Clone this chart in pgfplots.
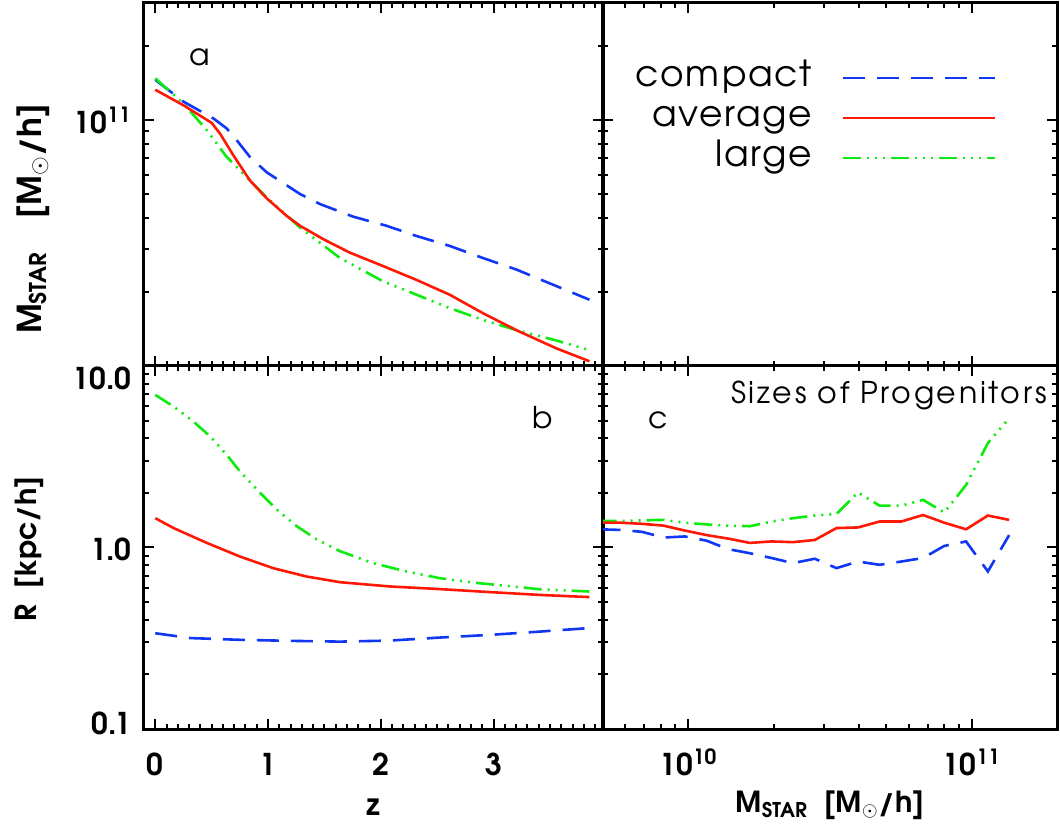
\documentclass[border=0pt]{standalone}
\usepackage{fontspec}
\setmainfont{texgyreadventor}[Extension=.otf, UprightFont=*-regular, BoldFont=*-bold]
\usepackage{pgfplots}
\pgfplotsset{compat=1.18}
\definecolor{cblue}{RGB}{15,55,245}
\definecolor{cred}{RGB}{255,25,5}
\definecolor{cgreen}{RGB}{15,235,15}
\pgfplotsset{
  panel/.style={
    scale only axis, anchor=south west,
    height=181.5pt,
    axis line style={line width=1.5pt},
    tick align=inside,
    tick pos=both, ticklabel pos=left,
    major tick length=5pt, minor tick length=2.5pt,
    every tick/.style={black, line width=1pt},
    tick label style={font=\fontsize{15}{17}\selectfont\bfseries},
    yticklabel style={anchor=base east, inner sep=0pt, xshift=-6pt, yshift=-6.5pt},
    xticklabel style={anchor=base, inner sep=0pt, yshift=-23pt},
  },
  cmp/.style={cblue, line width=1.3pt, dash pattern=on 11pt off 6pt},
  avg/.style={cred, line width=1.3pt},
  lrg/.style={cgreen, line width=1.3pt, dash pattern=on 9pt off 3pt on 1pt off 3pt on 1pt off 3pt on 1pt off 3pt},
}
\begin{document}
\begin{tikzpicture}
\useasboundingbox (0,0) rectangle (530pt,414.5pt);
% panel a
\begin{axis}[panel, at={(72pt,231.5pt)}, width=229.5pt,
  xmin=-0.1, xmax=3.97, ymode=log, ymin=1e10, ymax=3e11,
  xtick={0,1,2,3}, xticklabels={}, minor xtick={0,0.1,...,3.95},
  ytick={1e11}, yticklabels={10\textsuperscript{11}},
  minor ytick={2e10,3e10,4e10,5e10,6e10,7e10,8e10,9e10,2e11}]
\addplot[cmp] coordinates {(0,1.46e11)(0.25,1.19e11)(0.516,1.016e11)(0.634,9.25e10)(0.723,8.28e10)(0.84,7.08e10)(0.988,6.14e10)(1.283,5.01e10)(1.46,4.56e10)(1.755,4.05e10)(2.05,3.72e10)(2.316,3.38e10)(2.61,3.08e10)(2.905,2.75e10)(3.2,2.47e10)(3.496,2.17e10)(3.85,1.86e10)};
\addplot[lrg] coordinates {(0,1.48e11)(0.25,1.17e11)(0.457,9.1e10)(0.634,7.08e10)(0.84,5.68e10)(0.988,4.85e10)(1.283,3.66e10)(1.637,2.75e10)(2.02,2.21e10)(2.316,1.95e10)(2.61,1.72e10)(2.905,1.54e10)(3.2,1.40e10)(3.555,1.27e10)(3.85,1.16e10)};
\addplot[avg] coordinates {(0,1.33e11)(0.25,1.15e11)(0.50,9.75e10)(0.575,8.81e10)(0.693,7.19e10)(0.84,5.68e10)(0.988,4.81e10)(1.165,4.08e10)(1.283,3.72e10)(1.49,3.28e10)(1.726,2.89e10)(2.02,2.55e10)(2.316,2.24e10)(2.61,1.95e10)(2.905,1.64e10)(3.2,1.40e10)(3.555,1.18e10)(3.85,1.045e10)};
\end{axis}
% top right: legend
\begin{axis}[panel, at={(301.5pt,231.5pt)}, width=227pt,
  xmode=log, ymode=log, xmin=5e9, xmax=2e11, ymin=1e10, ymax=3e11,
  xtick={1e10,1e11}, xticklabels={},
  minor xtick={6e9,7e9,8e9,9e9,2e10,3e10,4e10,5e10,6e10,7e10,8e10,9e10,2e11},
  ytick={1e11}, yticklabels={},
  minor ytick={2e10,3e10,4e10,5e10,6e10,7e10,8e10,9e10,2e11},
  legend plot pos=right, legend cell align=right,
  legend style={draw=none, fill=none, at={(0.868,0.683)}, anchor=east, inner sep=0pt,
    column sep=15pt, row sep=4pt, font=\fontsize{18}{20}\selectfont\addfontfeature{LetterSpace=5},
    nodes={inner sep=0pt, text height=12pt, text depth=4pt}},
  legend image code/.code={\draw[#1] (0pt,0pt) -- (76pt,0pt);}]
\addlegendimage{cmp}\addlegendentry{compact}
\addlegendimage{avg}\addlegendentry{average}
\addlegendimage{lrg}\addlegendentry{large}
\end{axis}
% panel b
\begin{axis}[panel, at={(72pt,50pt)}, width=229.5pt,
  xmin=-0.1, xmax=3.97, ymode=log, ymin=0.1, ymax=10,
  xtick={0,1,2,3}, xticklabels={0,1,2,3}, minor xtick={0,0.1,...,3.95},
  ytick={0.1,1,10}, yticklabels={\raisebox{4pt}{0.1},1.0,\raisebox{-5.5pt}{10.0}},
  minor ytick={0.2,0.3,0.4,0.5,0.6,0.7,0.8,0.9,2,3,4,5,6,7,8,9}]
\addplot[cmp] coordinates {(0,0.337)(0.31,0.317)(0.752,0.310)(1.195,0.306)(1.637,0.303)(2.08,0.307)(2.522,0.319)(2.965,0.330)(3.407,0.344)(3.85,0.360)};
\addplot[lrg] coordinates {(0,6.93)(0.162,5.98)(0.339,4.94)(0.487,4.09)(0.634,3.24)(0.752,2.62)(0.929,2.0)(1.077,1.62)(1.254,1.31)(1.431,1.11)(1.637,0.955)(1.932,0.82)(2.227,0.738)(2.522,0.678)(2.817,0.641)(3.112,0.615)(3.407,0.589)(3.85,0.572)};
\addplot[avg] coordinates {(0,1.45)(0.162,1.28)(0.457,1.06)(0.752,0.891)(1.047,0.769)(1.342,0.692)(1.637,0.644)(2.08,0.610)(2.522,0.590)(2.965,0.568)(3.407,0.548)(3.85,0.533)};
\end{axis}
% panel c
\begin{axis}[panel, at={(301.5pt,50pt)}, width=227pt,
  xmode=log, ymode=log, xmin=5e9, xmax=2e11, ymin=0.1, ymax=10,
  xtick={1e10,1e11}, xticklabels={10\textsuperscript{10},10\textsuperscript{11}},
  minor xtick={6e9,7e9,8e9,9e9,2e10,3e10,4e10,5e10,6e10,7e10,8e10,9e10,2e11},
  ytick={0.1,1,10}, yticklabels={},
  minor ytick={0.2,0.3,0.4,0.5,0.6,0.7,0.8,0.9,2,3,4,5,6,7,8,9}]
\addplot[cmp] coordinates {(4.82e9,1.26)(5.75e9,1.25)(6.86e9,1.22)(8.17e9,1.135)(9.72e9,1.15)(1.161e10,1.09)(1.380e10,0.98)(1.648e10,0.93)(1.968e10,0.875)(2.339e10,0.82)(2.793e10,0.867)(3.334e10,0.77)(3.972e10,0.837)(4.73e10,0.803)(5.64e10,0.837)(6.73e10,0.875)(8.0e10,1.02)(9.55e10,1.08)(1.140e11,0.738)(1.355e11,1.17)};
\addplot[lrg] coordinates {(4.82e9,1.40)(5.75e9,1.40)(6.86e9,1.41)(8.17e9,1.42)(9.72e9,1.37)(1.161e10,1.34)(1.380e10,1.32)(1.648e10,1.31)(1.968e10,1.39)(2.339e10,1.45)(2.793e10,1.50)(3.334e10,1.53)(3.972e10,2.01)(4.73e10,1.70)(5.64e10,1.70)(6.73e10,1.83)(8.0e10,1.56)(9.55e10,2.21)(1.140e11,3.76)(1.355e11,5.16)};
\addplot[avg] coordinates {(4.82e9,1.37)(5.75e9,1.37)(6.86e9,1.35)(8.17e9,1.32)(9.72e9,1.24)(1.161e10,1.17)(1.380e10,1.12)(1.648e10,1.06)(1.968e10,1.08)(2.339e10,1.07)(2.793e10,1.10)(3.334e10,1.28)(3.972e10,1.29)(4.73e10,1.39)(5.64e10,1.39)(6.73e10,1.51)(8.0e10,1.37)(9.55e10,1.26)(1.140e11,1.50)(1.355e11,1.42)};
\end{axis}
% labels
\node[rotate=90, font=\fontsize{16.5}{18}\selectfont\bfseries] at (16.5pt,305pt) {M\textsubscript{STAR}\quad[M\textsubscript{$\odot$}/h]};
\node[rotate=90, font=\fontsize{14.5}{17}\selectfont\bfseries] at (14.5pt,140pt) {R\ \ [kpc/h]};
\node[font=\fontsize{15}{17}\selectfont\bfseries] at (186.5pt,11pt) {z};
\node[font=\fontsize{14.5}{17}\selectfont\bfseries] at (415pt,12pt) {M\textsubscript{STAR}\ \ [M\textsubscript{$\odot$}/h]};
\node[font=\fontsize{15}{17}\selectfont] at (100pt,386pt) {a};
\node[font=\fontsize{15}{17}\selectfont] at (271.5pt,205.5pt) {b};
\node[font=\fontsize{15}{17}\selectfont] at (329pt,204.5pt) {c};
\node[font=\fontsize{15}{17}\selectfont\addfontfeature{LetterSpace=9}] at (444.5pt,217pt) {Sizes of Progenitors};
\end{tikzpicture}
\end{document}
